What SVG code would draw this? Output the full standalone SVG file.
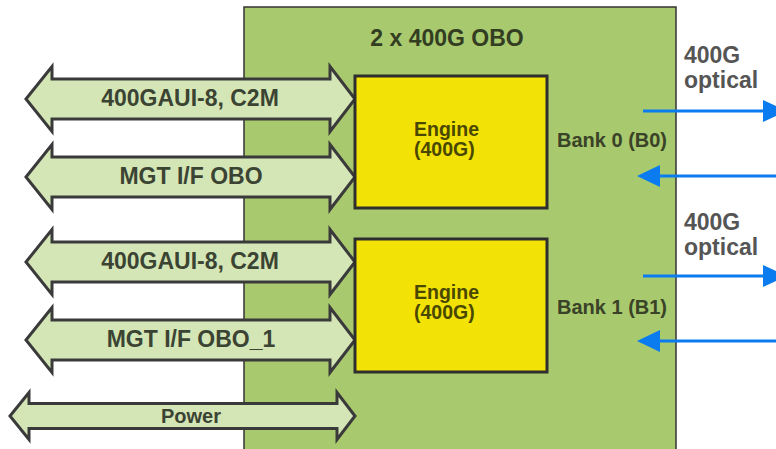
<svg xmlns="http://www.w3.org/2000/svg" width="776" height="449" viewBox="0 0 776 449">
<style>
.dbl{fill:#d4e6b6;stroke:#3a3a3a;stroke-width:3;stroke-linejoin:miter}
.lbl{font-family:"Liberation Sans",Arial,sans-serif;font-weight:bold;font-size:23px;fill:#3b4433;text-anchor:middle}
.eng{fill:#f2e205;stroke:#2e2e2e;stroke-width:3}
.engt{font-family:"Liberation Sans",Arial,sans-serif;font-weight:bold;font-size:19.5px;fill:#4a4800}
.bank{font-family:"Liberation Sans",Arial,sans-serif;font-weight:bold;font-size:20px;fill:#3a4228}
.opt{font-family:"Liberation Sans",Arial,sans-serif;font-weight:bold;font-size:23px;fill:#555555}
.blue{stroke:#0a7cf0;stroke-width:3;fill:none}
.bh{fill:#0a7cf0}
</style>
<g id="obo">
<rect x="244" y="7" width="432" height="460" fill="#a8c96e" stroke="#333333" stroke-width="1.5"/>
<text x="447" y="46" class="lbl" style="fill:#333d22">2 x 400G OBO</text>
</g>
<g id="connectors">
<path class="dbl" d="M26,99 L52,66.5 L52,79 L330,79 L330,66.5 L355,99 L330,131.5 L330,119 L52,119 L52,131.5 Z"/>
<path class="dbl" d="M26,177 L52,144.5 L52,157 L330,157 L330,144.5 L355,177 L330,209.5 L330,197 L52,197 L52,209.5 Z"/>
<path class="dbl" d="M26,262 L52,229.5 L52,242 L330,242 L330,229.5 L355,262 L330,294.5 L330,282 L52,282 L52,294.5 Z"/>
<path class="dbl" d="M26,340 L52,307.5 L52,320 L330,320 L330,307.5 L355,340 L330,372.5 L330,360 L52,360 L52,372.5 Z"/>
<path class="dbl" d="M10,416 L29,392.5 L29,403.5 L337,403.5 L337,392.5 L355,416 L337,439.5 L337,428.5 L29,428.5 L29,439.5 Z"/>
<line class="blue" x1="643" y1="111" x2="765" y2="111"/>
<polygon class="bh" points="763,100 787,111 763,122"/>
<line class="blue" x1="776" y1="176" x2="658" y2="176"/>
<polygon class="bh" points="660,165 637,176 660,187"/>
<line class="blue" x1="643" y1="276" x2="765" y2="276"/>
<polygon class="bh" points="763,265 787,276 763,287"/>
<line class="blue" x1="776" y1="341" x2="658" y2="341"/>
<polygon class="bh" points="660,330 637,341 660,352"/>
</g>
<g id="arrow-labels">
<text x="190" y="106" class="lbl">400GAUI-8, C2M</text>
<text x="191" y="184" class="lbl">MGT I/F OBO</text>
<text x="190" y="269" class="lbl">400GAUI-8, C2M</text>
<text x="191" y="347" class="lbl">MGT I/F OBO_1</text>
<text x="191" y="423" class="lbl" style="font-size:20px">Power</text>
</g>
<g id="engine0">
<rect class="eng" x="355" y="76" width="192" height="132"/>
<text class="engt" x="414" y="136">Engine</text>
<text class="engt" x="414" y="156">(400G)</text>
</g>
<g id="engine1">
<rect class="eng" x="355" y="239" width="192" height="133"/>
<text class="engt" x="414" y="299">Engine</text>
<text class="engt" x="414" y="319">(400G)</text>
</g>
<g id="bank0"><text class="bank" x="557" y="147">Bank 0 (B0)</text></g>
<g id="bank1"><text class="bank" x="557" y="314">Bank 1 (B1)</text></g>
<g id="optical0">
<text class="opt" x="684" y="63">400G</text>
<text class="opt" x="684" y="88">optical</text>
</g>
<g id="optical1">
<text class="opt" x="684" y="230">400G</text>
<text class="opt" x="684" y="255">optical</text>
</g>
</svg>
